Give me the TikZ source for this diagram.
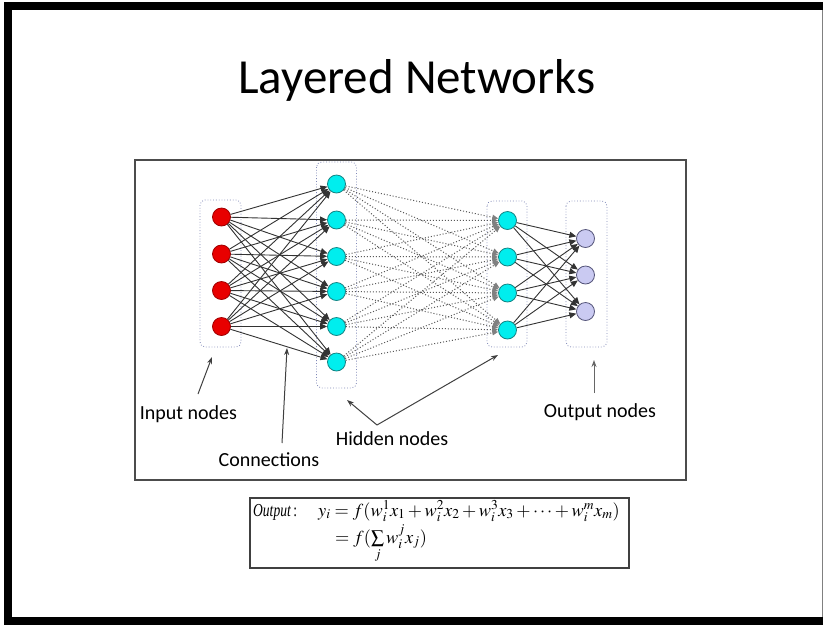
\documentclass[tikz,border=0pt]{standalone}
\usepackage{mathptmx}
\usepackage{fontspec}
\setmainfont{Liberation Serif}
\newfontfamily\calib{Carlito}
\usetikzlibrary{arrows.meta}
\definecolor{redfill}{HTML}{E80000}
\definecolor{redline}{HTML}{A00000}
\definecolor{cyanfill}{HTML}{00EEEE}
\definecolor{cyanline}{HTML}{158585}
\definecolor{lavfill}{HTML}{CACAF2}
\definecolor{lavline}{HTML}{55557A}
\definecolor{grpline}{HTML}{8088B8}
\begin{document}
\begin{tikzpicture}[x=1pt,y=-1pt,
  inp/.style={circle, minimum size=18pt, inner sep=0pt, fill=redfill, draw=redline, line width=0.8pt},
  hid/.style={circle, minimum size=18pt, inner sep=0pt, fill=cyanfill, draw=cyanline, line width=0.8pt},
  outn/.style={circle, minimum size=18pt, inner sep=0pt, fill=lavfill, draw=lavline, line width=0.8pt},
  grp/.style={draw=grpline, dotted, rounded corners=5pt, line width=0.8pt},
  conn/.style={draw=black!80, line width=0.9pt, -{Triangle[length=7pt,width=6pt]}},
  dconn/.style={draw=black!65, dotted, line width=1pt, -{Triangle[length=6pt,width=5pt,color=black!50]}},
  ann/.style={draw=black!75, line width=1pt, -{Stealth[length=7pt,width=5pt]}},
  lbl/.style={font=\calib\fontsize{20}{24}\selectfont, inner sep=0pt},
  fml/.style={inner sep=0pt, font=\fontsize{18.3}{22}\selectfont}]
\useasboundingbox (0,0) rectangle (823,625);
% outer frame
\fill[white] (0,0) rectangle (823,625);
\fill[black] (4,2) rectangle (823,10);
\fill[black] (4,2) rectangle (12,625);
\fill[black] (4,617) rectangle (823,625);
\draw[black!50, line width=1pt] (822,10) -- (822,617);
% title
\node[font=\calib\fontsize{49}{58}\selectfont, anchor=base, inner sep=0pt] (title) at (417,93) {Layered Networks};
% inner box
\draw[black!70, line width=1.6pt] (135,160) rectangle (686,480);
% group boxes
\draw[grp] (200,200) rectangle (241,347);
\draw[grp] (316.5,162) rectangle (356.5,388);
\draw[grp] (487,201) rectangle (527,347);
\draw[grp] (566,201) rectangle (607,347);
% nodes
\foreach \i/\y in {1/217,2/254,3/290.5,4/326.5} \node[inp] (i\i) at (221.5,\y) {};
\foreach \i/\y in {1/184,2/220,3/256.5,4/291.5,5/326.5,6/362} \node[hid] (h\i) at (336.5,\y) {};
\foreach \i/\y in {1/220.5,2/257,3/293,4/330} \node[hid] (g\i) at (507.5,\y) {};
\foreach \i/\y in {1/238.5,2/275,3/311.5} \node[outn] (o\i) at (585.5,\y) {};
% connections
\foreach \a in {1,...,4} \foreach \b in {1,...,6} \draw[conn] (i\a) -- (h\b);
\foreach \a in {1,...,6} \foreach \b in {1,...,4} \draw[dconn] (h\a) -- (g\b);
\foreach \a in {1,...,4} \foreach \b in {1,...,3} \draw[conn] (g\a) -- (o\b);
% labels
\node[lbl] (linput) at (188.5,414) {Input nodes};
\node[lbl] (lconn) at (269,460) {Connections};
\node[lbl] (lhid) at (392,439) {Hidden nodes};
\node[lbl] (lout) at (600,412) {Output nodes};
\coordinate (tinput) at (212,357);
\coordinate (tconn) at (287,348);
\coordinate (thid1) at (347,400);
\coordinate (thid2) at (498,355);
\coordinate (jhid) at (377,425);
\coordinate (tout) at (594,360);
\coordinate (sinput) at (198,394);
\coordinate (sconn) at (282,443);
\coordinate (sout) at (594,393);
\draw[ann] (sinput) -- (tinput);
\draw[ann] (sconn) -- (tconn);
\draw[ann] (jhid) -- (thid1);
\draw[ann] (jhid) -- (thid2);
\draw[ann, draw=black!60] (sout) -- (tout);
% formula
\node[draw=black!75, line width=1.4pt, minimum width=379pt, minimum height=70pt, inner sep=0pt] (fbox) at (439.5,533) {};
\node[fml, anchor=base west] (f0) at (253,516) {\scalebox{0.74}[1]{\textit{Output}\,:}};
\node[fml, anchor=base west] (f1) at (318,516)
  {$y_i = f(w_i^1x_1 + w_i^2x_2 + w_i^3x_3 + \cdots + w_i^mx_m)$};
\node[fml, anchor=base west] (f2) at (335,543)
  {$= f(\sum\limits_j w_i^jx_j)$};
\end{tikzpicture}
\end{document}
